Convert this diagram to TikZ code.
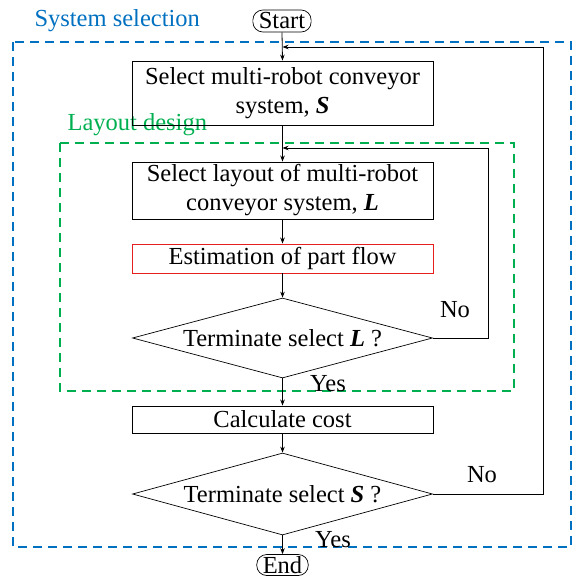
\documentclass[tikz,border=0pt]{standalone}
\usepackage{fontspec}
\setmainfont{Liberation Serif}
\usetikzlibrary{shapes.geometric,arrows.meta}
\definecolor{sysblue}{RGB}{0,112,192}
\definecolor{laygreen}{RGB}{0,176,80}
\definecolor{boxred}{RGB}{230,30,30}
\begin{document}
\begin{tikzpicture}[x=1pt,y=-1pt,
  every node/.style={font=\fontsize{24.5}{29}\selectfont},
  procbox/.style={draw=black,line width=0.9pt,rectangle,minimum width=301pt,inner sep=0pt,align=center},
  decbox/.style={draw=black,line width=0.7pt,diamond,aspect=3.75,minimum width=300pt,minimum height=80pt,inner sep=0pt},
  pill/.style={draw=black,line width=0.7pt,rectangle,rounded corners=10pt,minimum height=22pt,inner xsep=6pt,inner ysep=0pt},
  arr/.style={draw=black,line width=0.8pt,-{Stealth[length=6pt,width=4.5pt]}},
  frame/.style={dash pattern=on 9pt off 6pt,line width=1.8pt}
]
\useasboundingbox (0,0) rectangle (575,578);
% frames
\draw[frame,sysblue] (13,42) rectangle (571,547);
\draw[frame,laygreen] (60,143) rectangle (514,391);
\node[text=sysblue,anchor=west] (systitle) at (31,21) {System selection};
\node[text=laygreen,anchor=west] (laytitle) at (64,125) {Layout design};
% nodes
\node[pill] (start) at (282,21) {Start};
\node[procbox,minimum height=64pt] (b1) at (282.5,93) {Select multi-robot conveyor\\system, \textbf{\textit{S}}};
\node[procbox,minimum height=57pt] (b2) at (282.5,190.5) {Select layout of multi-robot\\conveyor system, \textbf{\textit{L}}};
\node[procbox,draw=boxred,minimum height=29pt] (b3) at (282.5,258.5) {Estimation of part flow};
\node[decbox] (d1) at (282.5,338) {Terminate select \textbf{\textit{L}} ?};
\node[procbox,minimum height=27pt] (b4) at (282.5,419.5) {Calculate cost};
\node[decbox,minimum height=82pt] (d2) at (282.5,494) {Terminate select \textbf{\textit{S}} ?};
\node[pill,minimum height=21pt] (end) at (282.5,565) {End};
% labels
\node (no1) at (455,310) {No};
\node (yes1) at (328,384) {Yes};
\node (no2) at (482,475) {No};
\node (yes2) at (333,540) {Yes};
% junctions
\coordinate (j1) at (282.5,47);
\coordinate (j2) at (282.5,148);
% connectors
\draw[arr] (start.south) -- (b1.north);
\draw[arr] (b1.south) -- (b2.north);
\draw[arr] (b2.south) -- (b3.north);
\draw[arr] (b3.south) -- (d1.north);
\draw[arr] (d1.south) -- (b4.north);
\draw[arr] (b4.south) -- (d2.north);
\draw[arr] (d2.south) -- (end.north);
\draw[arr] (d1.east) -- (488,338) |- (j2);
\draw[arr] (d2.east) -- (543,494) |- (j1);
\end{tikzpicture}
\end{document}
